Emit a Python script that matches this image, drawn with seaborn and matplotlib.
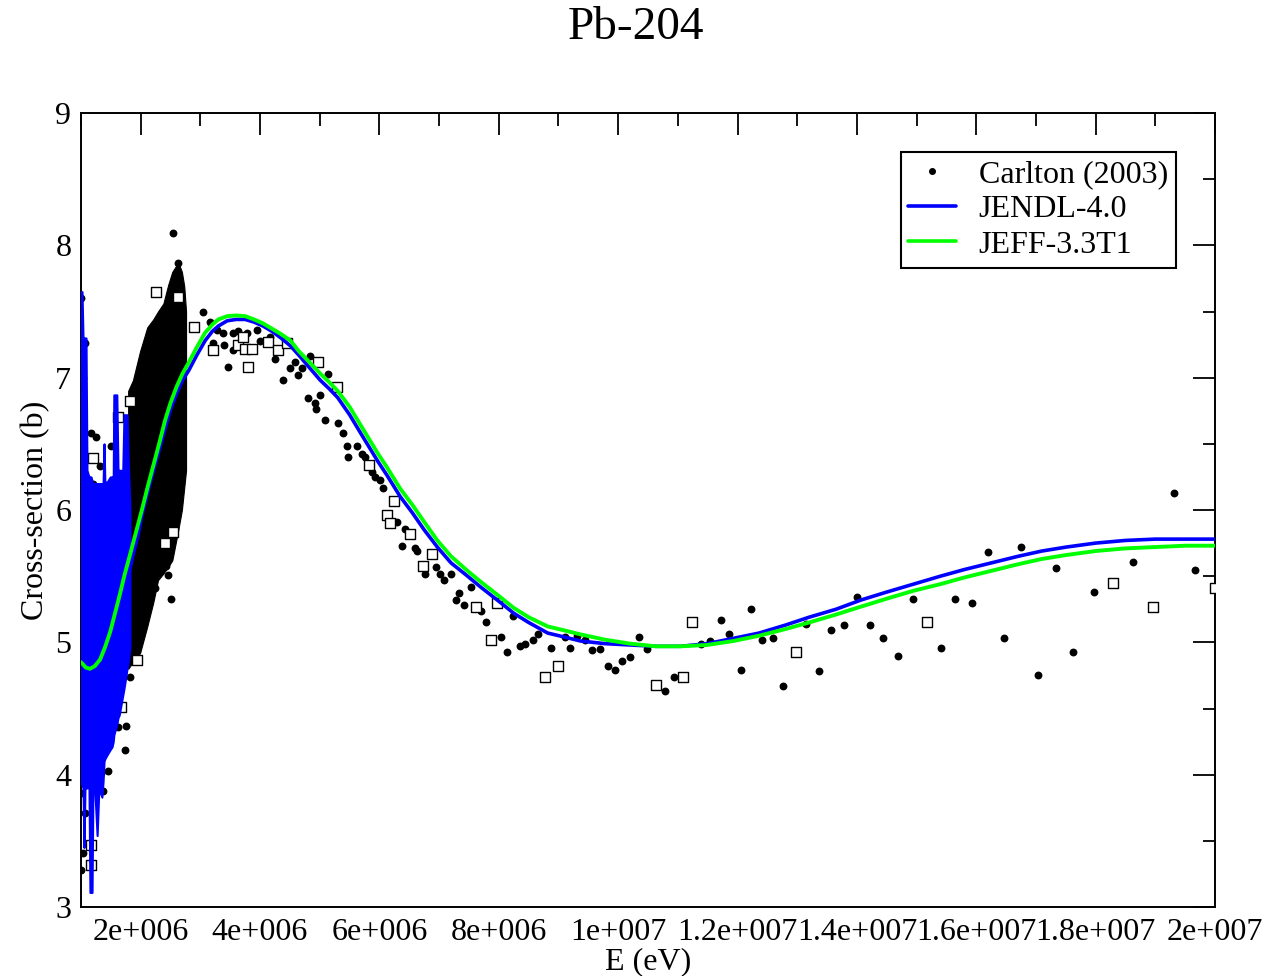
import numpy as np
import pandas as pd
import matplotlib
matplotlib.use("Agg")
import matplotlib.pyplot as plt
import seaborn as sns
from matplotlib.lines import Line2D
from matplotlib.ticker import MultipleLocator, FixedLocator, FixedFormatter

# ---------------- data (energies in MeV, cross-sections in barn) ----------------
TITLE = "Pb-204"
X_LABEL = "E (eV)"
Y_LABEL = "Cross-section (b)"
X_TICKS_MEV = [2, 4, 6, 8, 10, 12, 14, 16, 18, 20]
X_TICK_LABELS = ["2e+006", "4e+006", "6e+006", "8e+006", "1e+007",
                 "1.2e+007", "1.4e+007", "1.6e+007", "1.8e+007", "2e+007"]
Y_TICKS = [3, 4, 5, 6, 7, 8, 9]
Y_TICK_LABELS = ["3", "4", "5", "6", "7", "8", "9"]

LEGEND_LABELS = ["Carlton (2003)", "JENDL-4.0", "JEFF-3.3T1"]

# JEFF-3.3T1 evaluation
JEFF_E = [1.00, 1.08, 1.15, 1.23, 1.32, 1.40, 1.49, 1.57, 1.65, 1.73,
          1.82, 1.92, 2.02, 2.12, 2.22, 2.32, 2.41, 2.50, 2.60, 2.70,
          2.80, 2.94, 3.08, 3.20, 3.30, 3.45, 3.60, 3.75, 3.90, 4.05,
          4.20, 4.35, 4.51, 4.65, 4.80, 5.01, 5.15, 5.30, 5.50, 5.70,
          5.97, 6.13, 6.35, 6.55, 6.75, 6.97, 7.20, 7.45, 7.69, 8.03,
          8.25, 8.50, 8.82, 9.10, 9.37, 9.78, 10.20, 10.63, 11.05, 11.49,
          11.93, 12.36, 12.80, 13.20, 13.65, 14.07, 14.50, 14.95, 15.40, 15.80,
          16.25, 16.70, 17.10, 17.51, 18.00, 18.50, 19.00, 19.50, 20.03]
JEFF_XS = [4.85, 4.81, 4.80, 4.82, 4.87, 4.96, 5.08, 5.22, 5.36, 5.51,
           5.66, 5.83, 6.00, 6.18, 6.35, 6.52, 6.68, 6.81, 6.93, 7.03,
           7.11, 7.23, 7.34, 7.40, 7.44, 7.465, 7.47, 7.465, 7.44, 7.41,
           7.37, 7.33, 7.28, 7.20, 7.13, 7.03, 6.97, 6.90, 6.78, 6.63,
           6.43, 6.32, 6.16, 6.04, 5.91, 5.77, 5.65, 5.55, 5.46, 5.34,
           5.26, 5.19, 5.12, 5.09, 5.06, 5.02, 4.99, 4.97, 4.97, 4.98,
           5.01, 5.05, 5.10, 5.15, 5.21, 5.27, 5.33, 5.39, 5.44, 5.49,
           5.54, 5.59, 5.63, 5.66, 5.69, 5.71, 5.72, 5.73, 5.73]

# JENDL-4.0 evaluation, smooth part above the resonance region
JENDL_E = [1.82, 1.87, 1.95, 2.02, 2.12, 2.22, 2.32, 2.41, 2.50, 2.60,
           2.70, 2.80, 2.94, 3.08, 3.20, 3.30, 3.45, 3.60, 3.75, 3.90,
           4.05, 4.20, 4.35, 4.51, 4.65, 4.80, 5.01, 5.15, 5.30, 5.50,
           5.70, 5.97, 6.13, 6.35, 6.55, 6.75, 6.97, 7.20, 7.45, 7.69,
           8.03, 8.25, 8.50, 8.82, 9.10, 9.37, 9.78, 10.20, 10.63, 11.05,
           11.49, 11.93, 12.36, 12.80, 13.20, 13.65, 14.07, 14.50, 14.95, 15.40,
           15.80, 16.25, 16.70, 17.10, 17.51, 18.00, 18.50, 19.00, 19.50, 20.03]
JENDL_XS = [5.55, 5.66, 5.80, 5.96, 6.14, 6.31, 6.47, 6.62, 6.76, 6.88,
            6.98, 7.05, 7.17, 7.28, 7.35, 7.39, 7.43, 7.44, 7.44, 7.42,
            7.39, 7.35, 7.30, 7.24, 7.17, 7.09, 6.98, 6.92, 6.85, 6.72,
            6.57, 6.37, 6.26, 6.10, 5.98, 5.85, 5.72, 5.60, 5.51, 5.42,
            5.30, 5.22, 5.15, 5.07, 5.04, 5.01, 4.99, 4.98, 4.97, 4.97,
            4.99, 5.03, 5.07, 5.13, 5.19, 5.25, 5.32, 5.38, 5.44, 5.50,
            5.55, 5.60, 5.65, 5.69, 5.72, 5.75, 5.77, 5.78, 5.78, 5.78]

# JENDL-4.0 resolved-resonance region: envelope of the dense oscillations
JENDL_BAND_E = [1.000, 1.017, 1.034, 1.050, 1.067, 1.084, 1.100, 1.134, 1.150, 1.168,
                1.185, 1.200, 1.235, 1.270, 1.300, 1.350, 1.370, 1.386, 1.400, 1.450,
                1.490, 1.520, 1.540, 1.550, 1.600, 1.620, 1.640, 1.700, 1.720, 1.755,
                1.770, 1.790, 1.820]
JENDL_BAND_LO = [3.94, 3.92, 3.90, 3.45, 3.90, 3.90, 3.90, 3.90, 3.11, 3.11,
                 3.11, 3.90, 3.85, 3.54, 3.90, 3.83, 3.95, 4.10, 4.12, 4.16,
                 4.19, 4.21, 4.25, 4.30, 4.38, 4.43, 4.45, 4.60, 4.65, 4.75,
                 4.80, 4.85, 4.96]
JENDL_BAND_HI = [7.65, 7.65, 7.30, 7.30, 7.30, 7.30, 6.30, 6.25, 6.25, 6.25,
                 6.22, 6.20, 6.20, 6.20, 6.20, 6.20, 6.20, 6.50, 6.20, 6.22,
                 6.25, 6.25, 6.25, 6.87, 6.87, 6.30, 6.30, 6.30, 6.72, 6.72,
                 6.72, 6.40, 6.00]

# Carlton (2003): very dense measurement region, given as its envelope
CLOUD_E = [1.79, 1.87, 1.99, 2.11, 2.21, 2.29, 2.38, 2.46, 2.53, 2.63, 2.69, 2.73, 2.76]
CLOUD_LO = [4.80, 4.85, 4.92, 5.12, 5.30, 5.47, 5.52, 5.57, 5.62, 5.85, 6.00, 6.17, 6.30]
CLOUD_HI = [6.90, 6.98, 7.20, 7.38, 7.44, 7.50, 7.56, 7.70, 7.80, 7.87, 7.80, 7.69, 7.50]

# Carlton (2003): individual points
CARLTON_E = [1.000, 1.034, 1.067, 1.168, 1.252, 1.319, 1.503, 1.201, 1.000, 1.034,
             1.000, 1.067, 1.336, 1.369, 1.453, 1.621, 1.738, 1.755, 1.822, 2.074,
             2.242, 2.426, 2.460, 2.510, 2.544, 2.628, 3.047, 3.164, 3.282, 3.383,
             3.215, 3.390, 3.550, 3.634, 3.785, 3.953, 4.003, 4.171, 3.550, 3.466,
             4.255, 4.389, 4.507, 4.591, 4.641, 4.708, 4.842, 4.809, 4.926, 5.010,
             4.930, 5.144, 5.094, 5.312, 5.396, 5.463, 5.631, 5.715, 5.480, 5.765,
             5.883, 5.933, 6.017, 6.067, 6.302, 6.386, 6.436, 6.604, 6.638, 6.772,
             6.940, 7.023, 7.074, 7.191, 7.275, 7.326, 7.409, 7.527, 7.695, 7.779,
             8.030, 8.131, 8.232, 8.349, 8.433, 8.567, 8.651, 8.869, 9.104, 9.188,
             9.305, 9.440, 9.557, 9.691, 9.826, 9.943, 10.060, 10.195, 10.346, 10.480,
             10.782, 10.933, 11.386, 11.537, 11.721, 11.856, 12.057, 12.225, 12.409, 12.594,
             12.762, 13.148, 13.366, 13.567, 13.785, 14.003, 14.221, 14.440, 14.691, 14.943,
             15.413, 15.648, 15.933, 16.201, 16.470, 16.755, 17.040, 17.342, 17.628, 17.980,
             18.634, 19.305, 19.658]
CARLTON_XS = [7.60, 7.00, 7.26, 6.58, 6.55, 6.33, 6.48, 6.20, 3.28, 3.41,
              3.86, 3.71, 4.01, 3.88, 4.03, 4.36, 4.19, 4.37, 4.74, 5.22,
              5.41, 5.58, 5.51, 5.33, 8.09, 7.87, 7.50, 7.42, 7.36, 7.34,
              7.26, 7.25, 7.34, 7.35, 7.34, 7.36, 7.28, 7.31, 7.21, 7.08,
              7.14, 6.98, 7.07, 7.12, 7.02, 7.07, 7.16, 6.85, 6.81, 6.87,
              6.76, 7.03, 6.68, 6.66, 6.58, 6.48, 6.48, 6.42, 6.40, 6.40,
              6.29, 6.25, 6.23, 6.17, 5.91, 5.73, 5.86, 5.71, 5.69, 5.52,
              5.57, 5.52, 5.47, 5.52, 5.32, 5.37, 5.28, 5.42, 5.24, 5.15,
              5.04, 4.93, 5.20, 4.97, 4.99, 5.02, 5.06, 4.96, 5.04, 4.96,
              5.05, 5.02, 4.94, 4.95, 4.82, 4.79, 4.86, 4.89, 5.04, 4.95,
              4.63, 4.74, 4.99, 5.01, 5.17, 5.06, 4.79, 5.25, 5.02, 5.03,
              4.67, 5.14, 4.78, 5.09, 5.13, 5.34, 5.13, 5.03, 4.90, 5.33,
              4.96, 5.33, 5.30, 5.68, 5.03, 5.72, 4.75, 5.56, 4.93, 5.38,
              5.61, 6.13, 5.55]

# second set of measured points (open squares, not in legend)
SQUARE_E = [1.201, 1.621, 1.822, 1.940, 1.671, 2.258, 2.628, 2.544, 2.409, 2.896,
            3.215, 1.168, 1.168, 3.634, 3.752, 3.869, 3.718, 4.138, 4.305, 3.802,
            4.456, 4.977, 5.295, 5.832, 6.134, 6.185, 6.252, 6.520, 6.889, 6.738,
            7.611, 7.963, 7.862, 8.768, 8.987, 10.631, 11.084, 11.235, 12.980, 15.178,
            18.299, 18.953, 20.000]
SQUARE_XS = [6.39, 6.70, 6.82, 4.87, 4.51, 7.65, 7.61, 5.83, 5.75, 7.38,
             7.21, 3.32, 3.47, 7.25, 7.22, 7.22, 7.31, 7.27, 7.21, 7.08,
             7.26, 7.12, 6.93, 6.34, 5.96, 5.90, 6.07, 5.82, 5.67, 5.58,
             5.27, 5.30, 5.02, 4.74, 4.82, 4.68, 4.74, 5.15, 4.93, 5.15,
             5.45, 5.27, 5.41]

# ---------------- styling ----------------
sns.set_theme(style="white")
plt.rcParams["font.family"] = ["Liberation Serif", "DejaVu Serif"]
plt.rcParams["axes.linewidth"] = 1.4
plt.rcParams["text.color"] = "black"

BLUE = "#0000ff"
GREEN = "#00ff00"
MEV = 1e6

fig = plt.figure(figsize=(12.72, 9.76), dpi=100)
ax = fig.add_axes([81 / 1272, 1 - 907 / 976, (1215 - 81) / 1272, (907 - 113) / 976])

jeff = pd.DataFrame({"E": np.array(JEFF_E) * MEV, "xs": JEFF_XS})
jendl = pd.DataFrame({"E": np.array(JENDL_E) * MEV, "xs": JENDL_XS})
carlton = pd.DataFrame({"E": np.array(CARLTON_E) * MEV, "xs": CARLTON_XS})
squares = pd.DataFrame({"E": np.array(SQUARE_E) * MEV, "xs": SQUARE_XS})

# dense Carlton region
ax.fill_between(np.array(CLOUD_E) * MEV, CLOUD_LO, CLOUD_HI, color="black",
                linewidth=0.8, zorder=2)
sns.scatterplot(data=carlton, x="E", y="xs", ax=ax, color="black", marker="o",
                s=32, linewidth=0, zorder=2.5, legend=False)
sns.scatterplot(data=squares, x="E", y="xs", ax=ax, color="white", marker="s",
                s=42, edgecolor="black", linewidth=1.0, zorder=2.6, legend=False)

# JENDL resonance band and smooth curve
ax.fill_between(np.array(JENDL_BAND_E) * MEV, JENDL_BAND_LO, JENDL_BAND_HI,
                color=BLUE, linewidth=1.5, zorder=3)
sns.lineplot(data=jendl, x="E", y="xs", ax=ax, color=BLUE, linewidth=2.6,
             sort=False, estimator=None, zorder=4)
sns.lineplot(data=jeff, x="E", y="xs", ax=ax, color=GREEN, linewidth=2.8,
             sort=False, estimator=None, zorder=5)

# axes
ax.set_xlim(1.0 * MEV, 20.0 * MEV)
ax.set_ylim(3, 9)
ax.xaxis.set_major_locator(FixedLocator(np.array(X_TICKS_MEV) * MEV))
ax.xaxis.set_major_formatter(FixedFormatter(X_TICK_LABELS))
ax.xaxis.set_minor_locator(MultipleLocator(1 * MEV))
ax.yaxis.set_major_locator(FixedLocator(Y_TICKS))
ax.yaxis.set_major_formatter(FixedFormatter(Y_TICK_LABELS))
ax.yaxis.set_minor_locator(MultipleLocator(0.5))
ax.tick_params(which="both", direction="in", top=True, right=True,
               colors="black", labelsize=23)
ax.tick_params(which="major", length=16, width=1.3)
ax.tick_params(which="minor", length=9, width=1.3)
ax.tick_params(axis="x", which="major", pad=8)
ax.tick_params(axis="y", which="major", pad=7)
for sp in ax.spines.values():
    sp.set_color("black")
    sp.set_linewidth(1.4)

ax.set_xlabel(X_LABEL, fontsize=23, labelpad=0, color="black")
ax.set_ylabel(Y_LABEL, fontsize=23, labelpad=4, color="black")
fig.text(0.5, 1 - 28 / 976, TITLE, ha="center", va="center", fontsize=34,
         color="black")

handles = [
    Line2D([], [], linestyle="none", marker="o", color="black", markersize=4),
    Line2D([], [], color=BLUE, linewidth=2.6),
    Line2D([], [], color=GREEN, linewidth=2.6),
]
leg = ax.legend(handles=handles, labels=LEGEND_LABELS, loc="upper right",
                bbox_to_anchor=((1176 - 81) / 1134, (907 - 152) / 794),
                borderaxespad=0, fontsize=23, frameon=True, fancybox=False,
                framealpha=1, edgecolor="black", handlelength=1.5,
                handletextpad=0.7, labelspacing=0.18, borderpad=0.25,
                labelcolor="black")
leg.get_frame().set_linewidth(1.5)

fig.savefig("out.png", dpi=100)
